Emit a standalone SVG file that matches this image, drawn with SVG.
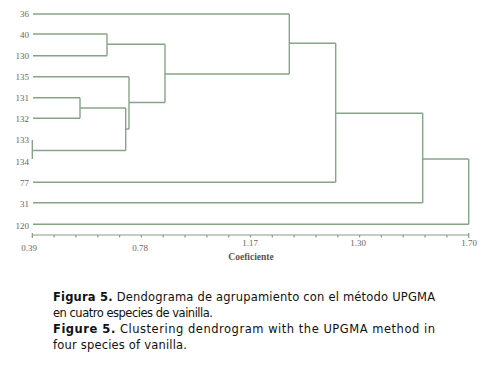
<svg xmlns="http://www.w3.org/2000/svg" width="492" height="367" viewBox="0 0 492 367">
<style>
.ln{fill:none;stroke:#86a586;stroke-width:1.4}
.ax{fill:none;stroke:#8a9a8a;stroke-width:1.2}
.lb{font-family:"Liberation Serif",serif;font-size:9px;fill:#666;text-anchor:end}
.tk{font-family:"Liberation Serif",serif;font-size:9px;fill:#666;text-anchor:middle}
.cap{font-family:"DejaVu Sans","Liberation Sans",sans-serif;font-size:11.5px;fill:#111}
.b{font-weight:bold}
</style>
<rect width="492" height="367" fill="#fff"/>
<g id="labels">
<text class="lb" x="29" y="17">36</text>
<text class="lb" x="29" y="37.5">40</text>
<text class="lb" x="29" y="59">130</text>
<text class="lb" x="29" y="80">135</text>
<text class="lb" x="29" y="101">131</text>
<text class="lb" x="29" y="122">132</text>
<text class="lb" x="29" y="143">133</text>
<text class="lb" x="29" y="165">134</text>
<text class="lb" x="29" y="185.5">77</text>
<text class="lb" x="29" y="207">31</text>
<text class="lb" x="29" y="229">120</text>
</g>
<g id="connectors">
<path class="ln" d="M33 14H289.3M33 34H107M33 55.7H107M107 34V55.7M107 44.3H165M33 76.7H129M33 97.7H80M33 118.3H80M80 97.7V118.3M80 108H125.7M32.3 140V159M32.3 150.5H125.7M125.7 108V150.5M125.7 129H129M129 76.7V129M129 102.5H165M165 44.3V102.5M165 74H289.3M289.3 14V74M289.3 43.3H335.7M33 182.3H335.7M335.7 43.3V182.3M335.7 113.3H422.7M33 202.7H422.7M422.7 113.3V202.7M422.7 159H468.7M33 224.3H468.7M468.7 159V224.3"/>
</g>
<g id="axis">
<path class="ax" d="M32.3 235H468.7M32.3 233V238M54.1 235V237.5M75.9 235V237.5M97.8 235V237.5M119.6 235V237.5M141.4 235V237.5M163.2 235V237.5M185 235V237.5M206.9 235V237.5M228.7 235V237.5M250.5 235V237.5M272.3 235V237.5M294.1 235V237.5M316 235V237.5M337.8 235V237.5M359.6 235V237.5M381.4 235V237.5M403.2 235V237.5M425 235V237.5M446.9 235V237.5M468.7 233V238"/>
<text class="tk" x="29" y="251">0.39</text>
<text class="tk" x="140" y="251">0.78</text>
<text class="tk" x="250" y="246">1.17</text>
<text class="tk" x="358" y="246">1.30</text>
<text class="tk" x="469" y="246">1.70</text>
<text class="tk" x="251" y="260" style="font-weight:bold;fill:#555;font-size:9.5px">Coeficiente</text>
</g>
<g id="caption">
<text class="cap" x="53" y="301" textLength="382" lengthAdjust="spacing"><tspan class="b">Figura 5.</tspan> Dendograma de agrupamiento con el método UPGMA</text>
<text class="cap" x="53" y="317" textLength="160" lengthAdjust="spacing">en cuatro especies de vainilla.</text>
<text class="cap" x="53" y="333" textLength="382" lengthAdjust="spacing"><tspan class="b">Figure 5.</tspan> Clustering dendrogram with the UPGMA method in</text>
<text class="cap" x="53" y="349" textLength="134" lengthAdjust="spacing">four species of vanilla.</text>
</g>
</svg>
